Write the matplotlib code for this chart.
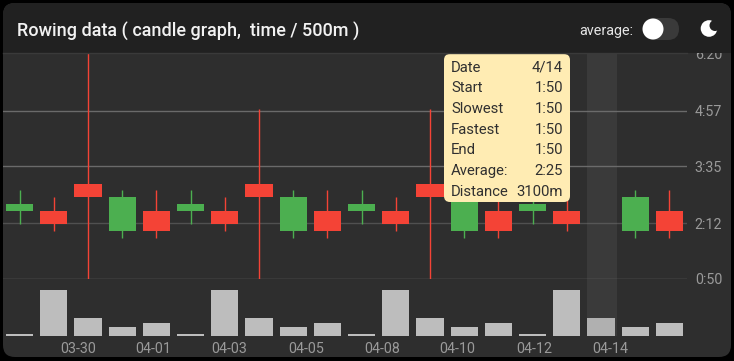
import matplotlib
matplotlib.use("Agg")
import matplotlib.pyplot as plt
from matplotlib.patches import Circle, FancyBboxPatch
from matplotlib.ticker import NullLocator

W, H = 734, 361

plt.rcParams["font.family"] = ["Roboto", "DejaVu Sans"]

# times are seconds / 500m
opens = [150, 150, 190, 120, 150, 150, 150, 190, 120, 150, 150, 150, 190, 120, 150, 150, 150, 110, 120, 150]
closes = [160, 130, 170, 170, 120, 160, 130, 170, 170, 120, 160, 130, 170, 170, 120, 160, 130, 110, 170, 120]
highs = [180, 170, 400, 180, 180, 180, 170, 300, 180, 180, 180, 170, 300, 180, 180, 180, 170, 110, 180, 180]
lows = [130, 120, 50, 110, 110, 130, 120, 50, 110, 110, 130, 120, 50, 110, 110, 130, 120, 110, 110, 110]
distance = [300, 8000, 3100, 1500, 2300, 300, 8000, 3100, 1500, 2300, 300, 8000, 3100, 1500, 2300, 300, 8000, 3100, 1500, 2300]

y_ticks = [50, 132, 215, 297, 380]
y_labels = ["0:50", "2:12", "3:35", "4:57", "6:20"]
date_labels = ["03-30", "04-01", "04-03", "04-05", "04-08", "04-10", "04-12", "04-14"]
date_ticks = [1.7, 3.92, 6.14, 8.37, 10.59, 12.81, 15.04, 17.26]

tip_names = ["Date", "Start", "Slowest", "Fastest", "End", "Average:", "Distance"]
tip_values = ["4/14", "1:50", "1:50", "1:50", "1:50", "2:25", "3100m"]
selected = 17

GREEN = "#4caf50"
RED = "#f44336"
BG = "#2e2e2e"
HEADER = "#212121"
TICK = "#9a9a9a"


def axes_px(fig, left, top, right, bottom, **kw):
    return fig.add_axes([left / W, 1 - bottom / H, (right - left) / W, (bottom - top) / H], **kw)


fig = plt.figure(figsize=(W / 100, H / 100), dpi=100, facecolor="black")

# canvas in pixel coords for card, header, toggle etc
bg = fig.add_axes([0, 0, 1, 1])
bg.set_xlim(0, W)
bg.set_ylim(H, 0)
bg.axis("off")
bg.add_patch(FancyBboxPatch((3, 3), 728, 354, boxstyle="round,pad=0,rounding_size=12", fc=BG, ec="none"))
header = FancyBboxPatch((3, 3), 728, 70, boxstyle="round,pad=0,rounding_size=12", fc=HEADER, ec="none")
bg.add_patch(header)
header.set_clip_path(plt.Rectangle((0, 0), W, 53, transform=bg.transData))
bg.text(17, 29, "Rowing data ( candle graph,  time / 500m )", color="#f2f2f2", fontsize=13.0,
        fontweight="medium", va="center_baseline", ha="left")
bg.text(579, 29, "average:", color="#e6e6e6", fontsize=10.4, va="center_baseline", ha="left")
bg.add_patch(FancyBboxPatch((643, 18), 36, 22, boxstyle="round,pad=0,rounding_size=11", fc="#3a3a3a", ec="none"))
bg.add_patch(Circle((653, 29), 10.5, fc="white", ec="none"))
bg.add_patch(Circle((709, 28.5), 8.3, fc="white", ec="none"))
bg.add_patch(Circle((715, 25.5), 5.5, fc=HEADER, ec="none"))

# candles
ax = axes_px(fig, 2.5, 54, 686.5, 279, facecolor="none")
ax.set_xlim(-0.5, 19.5)
ax.set_ylim(50, 380)
for s in ax.spines.values():
    s.set_visible(False)
ax.xaxis.set_major_locator(NullLocator())
ax.yaxis.tick_right()
ax.set_yticks(y_ticks)
ax.set_yticklabels(y_labels, color=TICK, fontsize=10.3)
ax.tick_params(axis="y", length=0, pad=6)
ax.grid(axis="y", color="#6a6a6a", lw=1)
ax.get_ygridlines()[1].set_color("#505050")
ax.get_ygridlines()[4].set_visible(False)
ax.set_axisbelow(True)
for i in range(len(opens)):
    if i == selected:
        continue
    c = GREEN if closes[i] > opens[i] else RED
    ax.vlines(i, lows[i], highs[i], color=c, lw=1, zorder=3)
    ax.bar(i, abs(closes[i] - opens[i]), bottom=min(opens[i], closes[i]), width=0.8, color=c, zorder=4)

# distance bars
ax2 = axes_px(fig, 2.5, 285, 686.5, 336, facecolor="none")
ax2.set_xlim(-0.5, 19.5)
ax2.set_ylim(0, 8000 * 51 / 46)
ax2.axis("off")
ax2.bar(range(len(distance)), distance, width=0.8, color="#bdbdbd", zorder=3)
for d, lab in zip(date_ticks, date_labels):
    ax2.annotate(lab, (d, 0), xytext=(0, -4.6), textcoords="offset points", color=TICK, fontsize=10.3,
                 ha="center", va="top", annotation_clip=False)

# highlight band over both charts
bx0 = ax.transData.transform((selected - 0.44, 0))[0] + 0.7
bx1 = ax.transData.transform((selected + 0.44, 0))[0] + 0.7
top = fig.add_axes([0, 0, 1, 1], facecolor="none")
top.set_xlim(0, W)
top.set_ylim(H, 0)
top.axis("off")
top.fill_between([bx0, bx1], 54, 336, color="#757575", alpha=0.18, lw=0)

# tooltip
top.add_patch(FancyBboxPatch((444, 54), 126, 148, boxstyle="round,pad=0,rounding_size=6", fc="#ffecb3", ec="none"))
for k, (name, val) in enumerate(zip(tip_names, tip_values)):
    yy = 66 + k * 20.67
    top.text(451, yy, name, color="#303030", fontsize=10.7, va="center_baseline", ha="left")
    top.text(563, yy, val, color="#303030", fontsize=10.7, va="center_baseline", ha="right")

# cover the part of the 6:20 label that runs under the header
top.add_patch(plt.Rectangle((640, 42), 91, 11, fc=HEADER, ec="none"))
top.plot([3, 687], [53, 53], color="#3a3a3a", lw=1)

fig.savefig("out.png", dpi=100, facecolor="black")
